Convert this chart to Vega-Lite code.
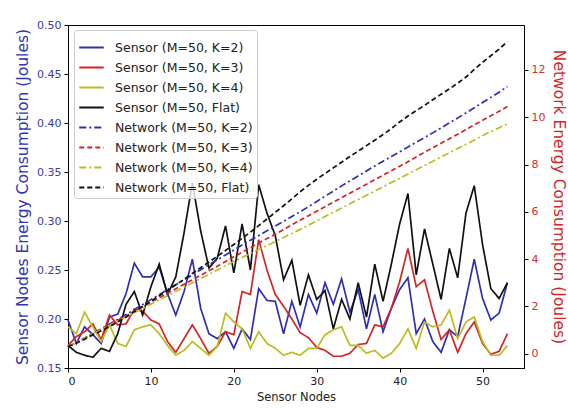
{
  "$schema": "https://vega.github.io/schema/vega-lite/v6.json",
  "width": 456,
  "height": 343,
  "autosize": "none",
  "padding": {"left": 68, "top": 25, "right": 44, "bottom": 41},
  "background": "white",
  "config": {
    "font": "DejaVu Sans",
    "view": {"stroke": "black", "strokeWidth": 1},
    "axis": {"grid": false, "domainColor": "black", "tickColor": "black", "tickSize": 4, "labelFontSize": 11, "labelPadding": 3, "domainWidth": 1},
    "legend": {
      "orient": "none", "legendX": 6, "legendY": 5, "padding": 4,
      "fillColor": "rgba(255,255,255,0.8)", "strokeColor": "#cccccc", "cornerRadius": 3,
      "labelFontSize": 12.5, "labelColor": "#222222", "rowPadding": -6.5, "labelOffset": 10,
      "symbolType": "stroke", "symbolSize": 600, "symbolStrokeWidth": 1.8, "title": null
    }
  },
  "data": {"values": [
    {"x":0,"s2":0.199,"s3":0.173,"s4":0.192,"sf":0.173,"n2":0.30,"n3":0.30,"n4":0.30,"nf":0.30},
    {"x":1,"s2":0.175,"s3":0.182,"s4":0.185,"sf":0.166,"n2":0.48,"n3":0.48,"n4":0.48,"nf":0.45},
    {"x":2,"s2":0.192,"s3":0.187,"s4":0.207,"sf":0.163,"n2":0.67,"n3":0.66,"n4":0.66,"nf":0.62},
    {"x":3,"s2":0.184,"s3":0.195,"s4":0.192,"sf":0.161,"n2":0.86,"n3":0.85,"n4":0.84,"nf":0.80},
    {"x":4,"s2":0.175,"s3":0.179,"s4":0.177,"sf":0.170,"n2":1.05,"n3":1.04,"n4":1.02,"nf":0.97},
    {"x":5,"s2":0.202,"s3":0.204,"s4":0.194,"sf":0.167,"n2":1.25,"n3":1.23,"n4":1.20,"nf":1.15},
    {"x":6,"s2":0.205,"s3":0.194,"s4":0.175,"sf":0.185,"n2":1.45,"n3":1.42,"n4":1.38,"nf":1.35},
    {"x":7,"s2":0.226,"s3":0.195,"s4":0.172,"sf":0.215,"n2":1.66,"n3":1.61,"n4":1.56,"nf":1.55},
    {"x":8,"s2":0.257,"s3":0.210,"s4":0.189,"sf":0.228,"n2":1.87,"n3":1.80,"n4":1.74,"nf":1.78},
    {"x":9,"s2":0.243,"s3":0.208,"s4":0.192,"sf":0.204,"n2":2.08,"n3":1.99,"n4":1.92,"nf":2.00},
    {"x":10,"s2":0.243,"s3":0.199,"s4":0.194,"sf":0.233,"n2":2.29,"n3":2.18,"n4":2.10,"nf":2.22},
    {"x":11,"s2":0.253,"s3":0.195,"s4":0.185,"sf":0.256,"n2":2.50,"n3":2.37,"n4":2.28,"nf":2.45},
    {"x":12,"s2":0.226,"s3":0.177,"s4":0.173,"sf":0.225,"n2":2.71,"n3":2.56,"n4":2.46,"nf":2.68},
    {"x":13,"s2":0.204,"s3":0.166,"s4":0.163,"sf":0.243,"n2":2.92,"n3":2.75,"n4":2.64,"nf":2.92},
    {"x":14,"s2":0.228,"s3":0.180,"s4":0.168,"sf":0.288,"n2":3.13,"n3":2.94,"n4":2.82,"nf":3.15},
    {"x":15,"s2":0.261,"s3":0.194,"s4":0.177,"sf":0.339,"n2":3.34,"n3":3.13,"n4":3.00,"nf":3.40},
    {"x":16,"s2":0.211,"s3":0.180,"s4":0.170,"sf":0.290,"n2":3.55,"n3":3.32,"n4":3.18,"nf":3.64},
    {"x":17,"s2":0.185,"s3":0.165,"s4":0.163,"sf":0.252,"n2":3.76,"n3":3.51,"n4":3.36,"nf":3.88},
    {"x":18,"s2":0.180,"s3":0.172,"s4":0.172,"sf":0.262,"n2":3.97,"n3":3.70,"n4":3.54,"nf":4.12},
    {"x":19,"s2":0.187,"s3":0.187,"s4":0.206,"sf":0.295,"n2":4.18,"n3":3.90,"n4":3.72,"nf":4.37},
    {"x":20,"s2":0.170,"s3":0.184,"s4":0.197,"sf":0.247,"n2":4.39,"n3":4.10,"n4":3.90,"nf":4.62},
    {"x":21,"s2":0.190,"s3":0.228,"s4":0.190,"sf":0.297,"n2":4.60,"n3":4.30,"n4":4.07,"nf":4.88},
    {"x":22,"s2":0.179,"s3":0.225,"s4":0.170,"sf":0.250,"n2":4.80,"n3":4.49,"n4":4.24,"nf":5.14},
    {"x":23,"s2":0.231,"s3":0.281,"s4":0.187,"sf":0.337,"n2":5.00,"n3":4.68,"n4":4.41,"nf":5.42},
    {"x":24,"s2":0.219,"s3":0.250,"s4":0.175,"sf":0.308,"n2":5.20,"n3":4.87,"n4":4.58,"nf":5.70},
    {"x":25,"s2":0.218,"s3":0.225,"s4":0.170,"sf":0.285,"n2":5.40,"n3":5.06,"n4":4.75,"nf":5.98},
    {"x":26,"s2":0.185,"s3":0.213,"s4":0.163,"sf":0.240,"n2":5.60,"n3":5.25,"n4":4.92,"nf":6.26},
    {"x":27,"s2":0.218,"s3":0.200,"s4":0.166,"sf":0.260,"n2":5.80,"n3":5.45,"n4":5.09,"nf":6.55},
    {"x":28,"s2":0.192,"s3":0.186,"s4":0.163,"sf":0.214,"n2":6.00,"n3":5.65,"n4":5.26,"nf":6.85},
    {"x":29,"s2":0.225,"s3":0.181,"s4":0.170,"sf":0.245,"n2":6.22,"n3":5.84,"n4":5.44,"nf":7.12},
    {"x":30,"s2":0.206,"s3":0.171,"s4":0.170,"sf":0.220,"n2":6.44,"n3":6.03,"n4":5.62,"nf":7.38},
    {"x":31,"s2":0.237,"s3":0.168,"s4":0.184,"sf":0.229,"n2":6.66,"n3":6.22,"n4":5.80,"nf":7.62},
    {"x":32,"s2":0.215,"s3":0.162,"s4":0.189,"sf":0.190,"n2":6.88,"n3":6.41,"n4":5.98,"nf":7.86},
    {"x":33,"s2":0.241,"s3":0.162,"s4":0.192,"sf":0.220,"n2":7.10,"n3":6.60,"n4":6.16,"nf":8.10},
    {"x":34,"s2":0.207,"s3":0.165,"s4":0.173,"sf":0.200,"n2":7.31,"n3":6.79,"n4":6.34,"nf":8.34},
    {"x":35,"s2":0.230,"s3":0.174,"s4":0.173,"sf":0.237,"n2":7.52,"n3":6.98,"n4":6.52,"nf":8.57},
    {"x":36,"s2":0.190,"s3":0.175,"s4":0.165,"sf":0.202,"n2":7.73,"n3":7.17,"n4":6.70,"nf":8.80},
    {"x":37,"s2":0.225,"s3":0.194,"s4":0.168,"sf":0.256,"n2":7.94,"n3":7.36,"n4":6.88,"nf":9.03},
    {"x":38,"s2":0.187,"s3":0.192,"s4":0.160,"sf":0.218,"n2":8.14,"n3":7.55,"n4":7.06,"nf":9.27},
    {"x":39,"s2":0.211,"s3":0.211,"s4":0.165,"sf":0.256,"n2":8.34,"n3":7.74,"n4":7.24,"nf":9.52},
    {"x":40,"s2":0.230,"s3":0.238,"s4":0.175,"sf":0.297,"n2":8.54,"n3":7.93,"n4":7.42,"nf":9.80},
    {"x":41,"s2":0.242,"s3":0.272,"s4":0.190,"sf":0.328,"n2":8.74,"n3":8.12,"n4":7.60,"nf":10.05},
    {"x":42,"s2":0.185,"s3":0.233,"s4":0.170,"sf":0.245,"n2":8.94,"n3":8.32,"n4":7.78,"nf":10.28},
    {"x":43,"s2":0.200,"s3":0.240,"s4":0.197,"sf":0.292,"n2":9.14,"n3":8.52,"n4":7.96,"nf":10.50},
    {"x":44,"s2":0.177,"s3":0.208,"s4":0.192,"sf":0.256,"n2":9.34,"n3":8.71,"n4":8.14,"nf":10.74},
    {"x":45,"s2":0.166,"s3":0.179,"s4":0.194,"sf":0.220,"n2":9.55,"n3":8.90,"n4":8.32,"nf":10.97},
    {"x":46,"s2":0.189,"s3":0.189,"s4":0.209,"sf":0.272,"n2":9.76,"n3":9.09,"n4":8.50,"nf":11.20},
    {"x":47,"s2":0.182,"s3":0.166,"s4":0.180,"sf":0.242,"n2":9.97,"n3":9.28,"n4":8.68,"nf":11.44},
    {"x":48,"s2":0.221,"s3":0.185,"s4":0.197,"sf":0.308,"n2":10.18,"n3":9.48,"n4":8.86,"nf":11.70},
    {"x":49,"s2":0.261,"s3":0.197,"s4":0.202,"sf":0.336,"n2":10.40,"n3":9.68,"n4":9.04,"nf":12.02},
    {"x":50,"s2":0.221,"s3":0.175,"s4":0.177,"sf":0.276,"n2":10.62,"n3":9.87,"n4":9.22,"nf":12.32},
    {"x":51,"s2":0.199,"s3":0.164,"s4":0.163,"sf":0.231,"n2":10.84,"n3":10.06,"n4":9.40,"nf":12.60},
    {"x":52,"s2":0.206,"s3":0.167,"s4":0.163,"sf":0.221,"n2":11.06,"n3":10.25,"n4":9.56,"nf":12.88},
    {"x":53,"s2":0.237,"s3":0.185,"s4":0.173,"sf":0.237,"n2":11.30,"n3":10.45,"n4":9.72,"nf":13.20}
  ]},
  "transform": [
    {"fold": ["s2", "s3", "s4", "sf", "n2", "n3", "n4", "nf"], "as": ["series", "v"]}
  ],
  "encoding": {
    "x": {"field": "x", "type": "quantitative", "scale": {"domain": [0, 55], "nice": false, "zero": false},
      "axis": {"values": [0, 10, 20, 30, 40, 50], "title": "Sensor Nodes", "titleFontSize": 11.5, "titleFontWeight": "normal", "titleColor": "#222222", "labelColor": "#222222", "titlePadding": 5}},
    "color": {"field": "series", "type": "nominal",
      "scale": {"domain": ["s2", "s3", "s4", "sf", "n2", "n3", "n4", "nf"],
        "range": ["#2e2eb8", "#d42424", "#bcbc1e", "#111111", "#2e2eb8", "#d42424", "#bcbc1e", "#111111"]},
      "legend": {"labelExpr": "{'s2':'Sensor (M=50, K=2)','s3':'Sensor (M=50, K=3)','s4':'Sensor (M=50, K=4)','sf':'Sensor (M=50, Flat)','n2':'Network (M=50, K=2)','n3':'Network (M=50, K=3)','n4':'Network (M=50, K=4)','nf':'Network (M=50, Flat)'}[datum.label]"}},
    "strokeDash": {"field": "series", "type": "nominal",
      "scale": {"domain": ["s2", "s3", "s4", "sf", "n2", "n3", "n4", "nf"],
        "range": [[1, 0], [1, 0], [1, 0], [1, 0], [7, 3, 2, 3], [5, 3], [7, 3, 2, 3], [5, 3]]},
      "legend": {"labelExpr": "{'s2':'Sensor (M=50, K=2)','s3':'Sensor (M=50, K=3)','s4':'Sensor (M=50, K=4)','sf':'Sensor (M=50, Flat)','n2':'Network (M=50, K=2)','n3':'Network (M=50, K=3)','n4':'Network (M=50, K=4)','nf':'Network (M=50, Flat)'}[datum.label]"}}
  },
  "layer": [
    {
      "transform": [{"filter": {"field": "series", "oneOf": ["s2", "s3", "s4", "sf"]}}],
      "mark": {"type": "line", "strokeWidth": 1.7},
      "encoding": {
        "y": {"field": "v", "type": "quantitative", "scale": {"domain": [0.15, 0.5], "nice": false, "zero": false},
          "axis": {"orient": "left", "values": [0.15, 0.2, 0.25, 0.3, 0.35, 0.4, 0.45, 0.5], "format": ".2f",
            "title": "Sensor Nodes Energy Consumption (Joules)", "titleFontSize": 15.5, "titleFontWeight": "normal",
            "titleColor": "#3535b0", "labelColor": "#3a3aa8", "titlePadding": 6}}
      }
    },
    {
      "transform": [{"filter": {"field": "series", "oneOf": ["n2", "n3", "n4", "nf"]}}],
      "mark": {"type": "line", "strokeWidth": 1.7},
      "encoding": {
        "y": {"field": "v", "type": "quantitative", "scale": {"domain": [-0.6, 13.9], "nice": false, "zero": false},
          "axis": {"orient": "right", "values": [0, 2, 4, 6, 8, 10, 12],
            "title": "Network Energy Consumption (Joules)", "titleFontSize": 15.5, "titleFontWeight": "normal",
            "titleColor": "#d42424", "labelColor": "#cc3030", "titlePadding": 6}}
      }
    }
  ],
  "resolve": {"scale": {"y": "independent"}}
}
